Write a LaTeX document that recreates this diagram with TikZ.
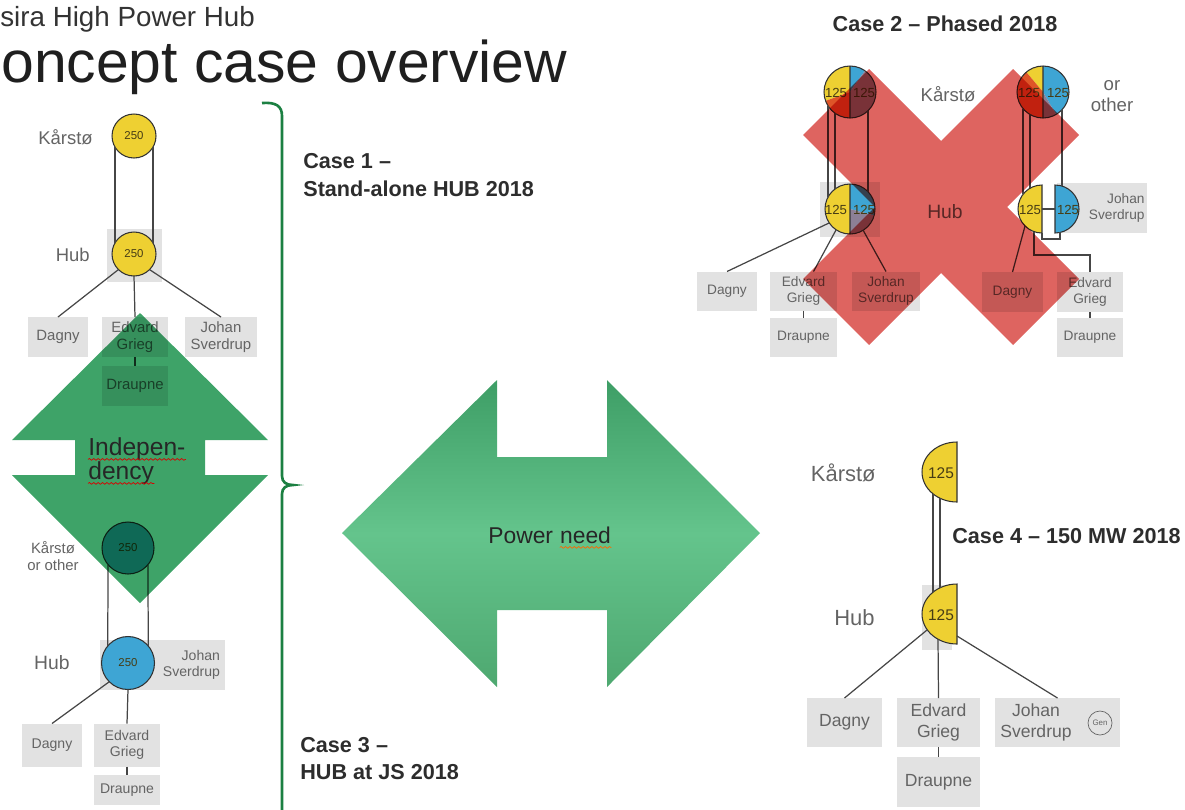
\documentclass[tikz,border=0pt]{standalone}
\usepackage{fontspec}
\setmainfont{Liberation Sans}
\usetikzlibrary{calc,decorations.pathmorphing}

\definecolor{hubyellow}{RGB}{238,208,50}
\definecolor{hubblue}{RGB}{62,165,212}
\definecolor{hubred}{RGB}{222,85,40}
\definecolor{hubgray}{RGB}{140,128,150}
\definecolor{boxgray}{RGB}{226,226,226}
\definecolor{labelgray}{RGB}{100,100,100}
\definecolor{linegray}{RGB}{70,70,70}
\definecolor{rimgray}{RGB}{50,50,50}
\definecolor{numgray}{RGB}{70,60,20}
\definecolor{casegray}{RGB}{45,45,45}
\definecolor{arrowgreen}{RGB}{62,163,104}
\definecolor{greentop}{RGB}{62,158,102}
\definecolor{greenmid}{RGB}{100,196,140}
\definecolor{greenbot}{RGB}{78,168,112}
\definecolor{bracegreen}{RGB}{28,128,66}
\definecolor{crossred}{RGB}{222,100,96}

\newcommand{\pieslice}[5]{\fill[#5] (#1) -- ++(#2:#4) arc[start angle=#2,end angle=#3,radius=#4] -- cycle;}

\begin{document}
\begin{tikzpicture}[x=0.02cm,y=-0.02cm,
  line/.style={draw=linegray,line width=0.7pt},
  box/.style={fill=boxgray,inner sep=0,outer sep=0,align=center,text=labelgray},
  box1/.style={box,minimum height=0.8cm,font=\fontsize{8.5}{9.5}\selectfont},
  box2/.style={box,minimum height=0.78cm,font=\fontsize{7.8}{9}\selectfont},
  box3/.style={box,minimum height=0.86cm,font=\fontsize{8}{9.5}\selectfont},
  box4/.style={box,minimum height=0.98cm,font=\fontsize{10}{12}\selectfont},
  pie/.style={circle,draw=rimgray,line width=0.6pt,inner sep=0,outer sep=0},
  num/.style={inner sep=0,text=numgray,font=\fontsize{6.5}{7}\selectfont},
  num2/.style={inner sep=0,text=numgray,font=\fontsize{7.5}{8}\selectfont},
  lbl/.style={inner sep=0,text=labelgray},
  casetxt/.style={inner sep=0,anchor=base west,text=casegray,font=\fontsize{12.3}{15}\selectfont\bfseries},
  wavy/.style={draw=red!85!black,line width=0.4pt,decorate,decoration={snake,amplitude=0.5pt,segment length=2.5pt}}]

\useasboundingbox (0,0) rectangle (1185,809);

% Titel
\node[anchor=base west,inner sep=0,text=black!80,font=\fontsize{15.8}{18}\selectfont] (sub) at (0,26) {sira High Power Hub};
\node[anchor=base west,inner sep=0,text=black!88,font=\fontsize{33.5}{38}\selectfont] (head) at (1,82) {oncept case overview};

% Klammer
\draw[bracegreen,line width=1.5pt] (262,103) .. controls (276,102) and (282,106) .. (282,116)
	-- (282,476) .. controls (282,482) and (286,485) .. (293,485)
	.. controls (286,485) and (282,488) .. (282,494) -- (282,812);

\node[casetxt] (c1a) at (303,168) {Case 1 –};
\node[casetxt] (c1b) at (303,196) {Stand-alone HUB 2018};
\node[casetxt] (c3a) at (300,752) {Case 3 –};
\node[casetxt] (c3b) at (300,779) {HUB at JS 2018};

% Case 1
\fill[boxgray] (107,229) rectangle (162,282);
\node[pie,fill=hubyellow,minimum size=0.88cm,num] (k1) at (134,136) {250};
\node[pie,fill=hubyellow,minimum size=0.88cm,num] (h1) at (134,254) {250};
\node[lbl,anchor=east,font=\fontsize{10.5}{12}\selectfont] (k1l) at (93,137) {Kårstø};
\node[lbl,anchor=east,font=\fontsize{10.5}{12}\selectfont] (h1l) at (90,255) {Hub};
\node[box1,minimum width=1.22cm] (d1) at (58,337) {Dagny};
\node[box1,minimum width=1.34cm] (e1) at (135,337) {Edvard\\Grieg};
\node[box1,minimum width=1.44cm] (j1) at (221,337) {Johan\\Sverdrup};
\node[box1,minimum width=1.34cm] (p1) at (135,386) {Draupne};
\draw[line] (k1.210) -- (h1.150);
\draw[line] (k1.330) -- (h1.30);
\draw[line] (h1.225) -- (d1.north);
\draw[line] (h1.south) -- (e1.north);
\draw[line] (h1.315) -- (j1.north);
\draw[line] (e1.south) -- (p1.north);

% Case 3
\node[box,minimum height=1cm,text width=2.3cm,inner xsep=0.1cm,align=right,font=\fontsize{8}{9.5}\selectfont] (j3) at (162.5,665) {Johan\\Sverdrup};
\node[pie,fill=hubblue,minimum size=1.04cm,num] (k3) at (128,548) {250};
\node[pie,fill=hubblue,minimum size=1.06cm,num] (h3) at (128,663) {250};
\node[lbl,align=center,font=\fontsize{8.5}{9.8}\selectfont] (k3l) at (53,556) {Kårstø\\or other};
\node[lbl,anchor=east,font=\fontsize{11}{12}\selectfont] (h3l) at (70,663) {Hub};
\node[box3,minimum width=1.2cm] (d3) at (52,745) {Dagny};
\node[box3,minimum width=1.34cm] (e3) at (127,745) {Edvard\\Grieg};
\node[box3,minimum width=1.34cm,minimum height=0.6cm] (p3) at (127,790) {Draupne};
\draw[line] (k3.220) -- (h3.140);
\draw[line] (k3.320) -- (h3.40);
\draw[line] (h3.225) -- (d3.north);
\draw[line] (h3.south) -- (e3.north);
\draw[line] (e3.south) -- (p3.north);

% Pfeil Independency
\begin{scope}[blend mode=multiply]
\fill[arrowgreen] (140,313) -- (268,440) -- (205,440) -- (205,475) -- (268,475) -- (140,603)
	-- (12,475) -- (75,475) -- (75,440) -- (12,440) -- cycle;
\end{scope}
\node[anchor=base west,inner sep=0,text=black!85,font=\fontsize{14}{16}\selectfont] (ind1) at (88,455) {Indepen-};
\node[anchor=base west,inner sep=0,text=black!85,font=\fontsize{14}{16}\selectfont] (ind2) at (88,479) {dency};
\draw[wavy] ([yshift=-2.5pt]ind1.base west) -- ([yshift=-2.5pt]ind1.base east);
\draw[wavy] ([yshift=-2.5pt]ind2.base west) -- ([yshift=-2.5pt]ind2.base east);

% Pfeil Power need
\shade[top color=greentop,bottom color=greenbot,middle color=greenmid]
	(342,533) -- (497,380) -- (497,457) -- (607,457) -- (607,380) -- (760,533)
	-- (607,687) -- (607,610) -- (497,610) -- (497,687) -- cycle;
\node[anchor=base west,inner sep=0,text=black!85,font=\fontsize{13}{15}\selectfont] (pw) at (488,543) {Power};
\node[anchor=base west,inner sep=0,text=black!85,font=\fontsize{13}{15}\selectfont] (nd) at ([xshift=3.6pt]pw.base east) {need};
\draw[wavy,draw=orange!80!red] ([yshift=-2.5pt]nd.base west) -- ([yshift=-2.5pt]nd.base east);

% Case 2
\node[casetxt,anchor=base] (c2t) at (945,31) {Case 2 – Phased 2018};
\fill[boxgray] (820,182) rectangle (880,237);
\node[box,minimum height=1cm,text width=1.7cm,inner xsep=0.05cm,align=right,font=\fontsize{7.8}{9}\selectfont] (j2r) at (1102,208) {Johan\\Sverdrup};

\node[pie,draw=none,minimum size=1.04cm] (c2kl) at (850,92) {};
\node[pie,draw=none,minimum size=1.04cm] (c2kr) at (1043,92) {};
\node[pie,draw=none,minimum size=1cm] (c2hl) at (850,209) {};
\coordinate (c2yr) at (1042,209);
\coordinate (c2br) at (1055,209);

\pieslice{c2kl.center}{160}{270}{26}{hubyellow}
\pieslice{c2kl.center}{90}{160}{26}{hubred}
\pieslice{c2kl.center}{-90}{-55}{26}{hubblue}
\pieslice{c2kl.center}{-55}{90}{26}{hubgray}
\draw[rimgray,line width=0.6pt] (c2kl.center) circle[radius=26] ($(c2kl.center)+(0,-26)$) -- ($(c2kl.center)+(0,26)$);

\pieslice{c2kr.center}{230}{270}{26}{hubyellow}
\pieslice{c2kr.center}{90}{230}{26}{hubred}
\pieslice{c2kr.center}{-90}{60}{26}{hubblue}
\pieslice{c2kr.center}{60}{90}{26}{hubgray}
\draw[rimgray,line width=0.6pt] (c2kr.center) circle[radius=26] ($(c2kr.center)+(0,-26)$) -- ($(c2kr.center)+(0,26)$);

\pieslice{c2hl.center}{90}{270}{25}{hubyellow}
\pieslice{c2hl.center}{-90}{15}{25}{hubblue}
\pieslice{c2hl.center}{15}{90}{25}{hubgray}
\draw[rimgray,line width=0.6pt] (c2hl.center) circle[radius=25] ($(c2hl.center)+(0,-25)$) -- ($(c2hl.center)+(0,25)$);

\filldraw[fill=hubyellow,draw=rimgray,line width=0.6pt] (c2yr) ++(0,24) arc[start angle=90,end angle=270,radius=24] -- cycle;
\filldraw[fill=hubblue,draw=rimgray,line width=0.6pt] (c2br) ++(0,-24) arc[start angle=-90,end angle=90,radius=24] -- cycle;

\node[num2] (n1) at (836,93) {125};
\node[num2] (n2) at (864,93) {125};
\node[num2] (n3) at (1029,93) {125};
\node[num2] (n4) at (1058,93) {125};
\node[num2] (n5) at (836,210) {125};
\node[num2] (n6) at (864,210) {125};
\node[num2] (n7) at (1030,210) {125};
\node[num2] (n8) at (1068,210) {125};

\node[lbl,font=\fontsize{10.6}{12}\selectfont] (k2l) at (948,94) {Kårstø};
\node[lbl,align=center,font=\fontsize{10.6}{12}\selectfont] (k2r) at (1112,96) {or\\other};
\node[lbl,font=\fontsize{11}{12}\selectfont] (h2l) at (945,212) {Hub};

\node[box2,minimum width=1.2cm] (d2l) at (727,291) {Dagny};
\node[box2,minimum width=1.34cm] (e2l) at (803.5,291) {Edvard\\Grieg};
\node[box2,minimum width=1.36cm] (j2l) at (886,291) {Johan\\Sverdrup};
\node[box2,minimum width=1.34cm] (p2l) at (803.5,337.5) {Draupne};
\node[box2,minimum width=1.22cm,minimum height=0.8cm] (d2r) at (1012.5,292) {Dagny};
\node[box2,minimum width=1.32cm,minimum height=0.8cm] (e2r) at (1090,292) {Edvard\\Grieg};
\node[box2,minimum width=1.32cm] (p2r) at (1090,337.5) {Draupne};

\draw[line] ($(c2kl.center)+(-22,14)$) -- ($(c2hl.center)+(-22,-12)$);
\draw[line] ($(c2kl.center)+(-15,21)$) -- ($(c2hl.center)+(-15,-20)$);
\draw[line] ($(c2kl.center)+(18,19)$) -- ($(c2hl.center)+(18,-17)$);
\draw[line] ($(c2kr.center)+(-20,17)$) -- ($(c2yr)+(-19,-15)$);
\draw[line] ($(c2kr.center)+(-13,22)$) -- ($(c2yr)+(-12,-21)$);
\draw[line] ($(c2kr.center)+(19,18)$) -- ($(c2br)+(7,-23)$);
\draw[line] ($(c2hl.center)+(-21,14)$) -- (d2l.north);
\draw[line] ($(c2hl.center)+(-14,21)$) -- ($(e2l.north)+(10,0)$);
\draw[line] ($(c2hl.center)+(13,21)$) -- (j2l.north);
\draw[line] (e2l.south) -- (p2l.north);
\draw[line] (c2yr) -- (c2br);
\draw[line] ($(c2yr)+(0,24)$) -- ++(0,6) -| ($(c2br)+(5,23)$);
\draw[line] ($(c2yr)+(-17,17)$) -- (d2r.north);
\draw[line] ($(c2yr)+(-8,23)$) |- ($(e2r.north)+(0,-17)$) -- (e2r.north);
\draw[line] (e2r.south) -- (p2r.north);

% Kreuz
\begin{scope}[shift={(941,207)},blend mode=multiply]
\fill[crossred] (0,-66) -- (72,-138) -- (138,-72) -- (66,0) -- (138,72) -- (72,138)
	-- (0,66) -- (-72,138) -- (-138,72) -- (-66,0) -- (-138,-72) -- (-72,-138) -- cycle;
\end{scope}

% Case 4
\node[casetxt] (c4t) at (952,543) {Case 4 – 150 MW 2018};
\coordinate (c4k) at (957,472);
\coordinate (c4h) at (957,614);
\fill[boxgray] (922,585) rectangle (952,650);
\filldraw[fill=hubyellow,draw=rimgray,line width=0.6pt] (c4k) ++(0,30) arc[start angle=90,end angle=270,x radius=35,y radius=30] -- cycle;
\filldraw[fill=hubyellow,draw=rimgray,line width=0.6pt] (c4h) ++(0,30) arc[start angle=90,end angle=270,x radius=35,y radius=30] -- cycle;
\node[inner sep=0,text=numgray,font=\fontsize{8.8}{10}\selectfont] (n9) at (941,473) {125};
\node[inner sep=0,text=numgray,font=\fontsize{8.8}{10}\selectfont] (n10) at (941,615) {125};
\node[lbl,anchor=east,font=\fontsize{12.5}{14}\selectfont] (k4l) at (876,473) {Kårstø};
\node[lbl,anchor=east,font=\fontsize{12.5}{14}\selectfont] (h4l) at (875,618) {Hub};
\node[box4,minimum width=1.5cm] (d4) at (844.5,722.5) {Dagny};
\node[box4,minimum width=1.66cm] (e4) at (938.5,722.5) {Edvard\\Grieg};
\node[box4,minimum width=2.5cm] (j4) at (1057.5,722.5) {};
\node[box4,minimum width=1.66cm,minimum height=1cm] (p4) at (938.5,782) {Draupne};
\node[inner sep=0,align=center,text=labelgray,font=\fontsize{10}{12}\selectfont] (j4t) at (1036,722) {Johan\\Sverdrup};
\node[circle,draw=labelgray,line width=0.4pt,minimum size=0.48cm,inner sep=0,text=labelgray,font=\fontsize{4.5}{5}\selectfont] (gen) at (1100,723) {Gen};
\draw[line] ($(c4k)+(-24,22)$) -- ($(c4h)+(-24,-22)$);
\draw[line] ($(c4k)+(-17,26)$) -- ($(c4h)+(-17,-26)$);
\draw[line] ($(c4h)+(-30,16)$) -- (d4.north);
\draw[line] ($(c4h)+(-19,25)$) -- (e4.north);
\draw[line] ($(c4h)+(0,22)$) -- (j4.north);
\draw[line] (e4.south) -- (p4.north);

\end{tikzpicture}
\end{document}
